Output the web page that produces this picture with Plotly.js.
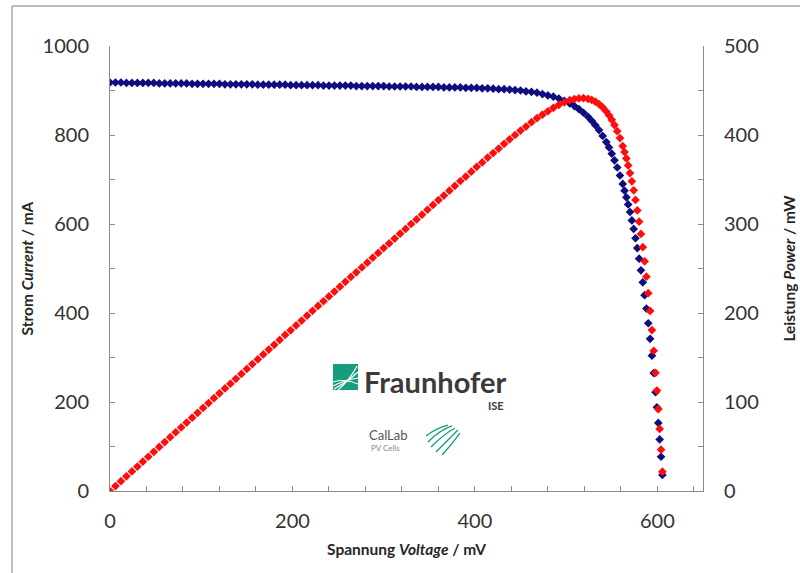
<!DOCTYPE html>
<html><head><meta charset="utf-8">
<script src="https://cdn.plot.ly/plotly-3.0.1.min.js"></script>
<style>html,body{margin:0;padding:0;background:#fff}#chart{width:800px;height:573px}</style>
</head><body><div id="chart"></div>
<script>
// Voltage in mV
const voltage = [0,6,12,18,24,30,36,42,48,54,60,66,72,78,84,90,96,102,108,114,120,126,132,138,144,150,156,162,168,174,180,186,192,198,204,210,216,222,228,234,240,246,252,258,264,270,276,282,288,294,300,306,312,318,324,330,336,342,348,354,360,366,372,378,384,390,396,402,408,414,420,426,432,438,444,450,456,462,468,474,480,486,492,498,
504,509,514,519,524,528,532,536,540,544,547,550,553,556,559,562,564,566,568,570,572,574,576,578,580,582,584,586,588,590,592,594,596,598,599.5,601,602.5,604,605.5];
// Current in mA
const current = [918,918,918,917,917,917,917,917,917,916,916,916,916,916,916,915,915,915,915,915,915,914,914,914,914,914,914,913,913,913,913,913,913,912,912,912,912,912,912,911,911,911,911,911,911,910,910,910,910,910,910,909,909,909,909,909,908,908,908,908,908,907,907,907,907,906,906,906,905,905,904,903,903,902,901,900,898,897,895,892,889,886,882,877,
871,865,858,850,841,832,822,811,798,784,772,758,743,727,709,690,675,660,644,627,608,589,568,546,522,496,469,440,410,377,342,304,265,222,188,153,116,77,36];
// Power in mW
const power = [0,5.5,11.0,16.5,22.0,27.5,33.0,38.5,44.0,49.5,55.0,60.5,66.0,71.4,76.9,82.4,87.8,93.3,98.8,104.3,109.8,115.2,120.6,126.1,131.6,137.1,142.6,147.9,153.4,158.9,164.3,169.8,175.3,180.6,186.0,191.5,197.0,202.5,207.9,213.2,218.6,224.1,229.6,235.0,240.5,245.7,251.2,256.6,262.1,267.5,273.0,278.2,283.6,289.1,294.5,300.0,305.1,310.5,316.0,321.4,326.9,332.0,337.4,342.8,348.3,353.3,358.8,364.2,369.2,374.7,379.7,384.7,390.1,395.1,400.0,405.0,409.5,414.4,418.9,422.8,426.7,430.6,433.9,436.7,
439.1,440.4,441.2,441.4,440.6,439.4,437.5,434.7,431.1,426.4,422.1,417.0,411.1,404.3,396.5,387.6,380.9,373.7,365.8,357.2,348.0,337.9,327.1,315.3,302.6,288.9,274.0,258.1,240.8,222.3,202.3,180.8,157.6,132.8,112.9,92.0,69.8,46.4,21.7];

const xTitle = 'Spannung <i>Voltage</i> / mV';
const yTitle = 'Strom <i>Current</i> / mA';
const y2Title = 'Leistung <i>Power</i> / mW';

// pixel -> paper helpers (plot area 110..703 x 46..491)
const L = 110, R = 703, T = 46, B = 491;
const px = x => (x - L) / (R - L);
const py = y => (B - y) / (B - T);
const P = (x, y) => px(x).toFixed(4) + ',' + py(y).toFixed(4);

const axisGray = '#8c8c8c';
const tickFont = {family: 'Lato, "Open Sans", sans-serif', size: 20, color: '#333333'};
const titleFont = {family: 'Lato, "Open Sans", sans-serif', size: 15.5, color: '#262626', weight: 'bold'};
const green = '#179c7d';

const traces = [
  {x: voltage, y: current, type: 'scatter', mode: 'markers', yaxis: 'y',
   marker: {symbol: 'diamond', size: 6.7, color: '#0d0d80', line: {width: 0}}, name: 'Current'},
  {x: voltage, y: power, type: 'scatter', mode: 'markers', yaxis: 'y2',
   marker: {symbol: 'diamond', size: 6.7, color: '#ff0d0d', line: {width: 0}}, name: 'Power'}
];

const shapes = [
  // outer frame
  {type: 'line', xref: 'paper', yref: 'paper', x0: px(12), y0: py(6), x1: px(12), y1: py(580), line: {color: '#a8a8a8', width: 1.5}},
  {type: 'line', xref: 'paper', yref: 'paper', x0: px(12), y0: py(6), x1: px(810), y1: py(6), line: {color: '#a8a8a8', width: 1.5}},
  // Fraunhofer green square
  {type: 'rect', xref: 'paper', yref: 'paper', x0: px(333), x1: px(358), y0: py(390), y1: py(364), fillcolor: green, line: {width: 0}},
  {type: 'path', xref: 'paper', yref: 'paper', path: 'M' + P(333, 386) + ' Q' + P(345, 380) + ' ' + P(358, 378), line: {color: '#ffffff', width: 1.2}},
  {type: 'path', xref: 'paper', yref: 'paper', path: 'M' + P(334, 389) + ' Q' + P(347, 382) + ' ' + P(358, 372), line: {color: '#ffffff', width: 1.2}},
  {type: 'path', xref: 'paper', yref: 'paper', path: 'M' + P(338, 390) + ' Q' + P(350, 380) + ' ' + P(357, 366), line: {color: '#ffffff', width: 1.2}},
  {type: 'path', xref: 'paper', yref: 'paper', path: 'M' + P(333, 382) + ' Q' + P(344, 378) + ' ' + P(358, 384), line: {color: '#ffffff', width: 1.0}},
  // CalLab fan
  {type: 'path', xref: 'paper', yref: 'paper', path: 'M' + P(426, 436) + ' Q' + P(436, 428) + ' ' + P(448, 425), line: {color: green, width: 1.3}},
  {type: 'path', xref: 'paper', yref: 'paper', path: 'M' + P(428, 442) + ' Q' + P(440, 430) + ' ' + P(452, 426), line: {color: green, width: 1.3}},
  {type: 'path', xref: 'paper', yref: 'paper', path: 'M' + P(431, 447) + ' Q' + P(444, 434) + ' ' + P(455, 428), line: {color: green, width: 1.3}},
  {type: 'path', xref: 'paper', yref: 'paper', path: 'M' + P(436, 452) + ' Q' + P(448, 440) + ' ' + P(458, 430), line: {color: green, width: 1.3}},
  {type: 'path', xref: 'paper', yref: 'paper', path: 'M' + P(442, 455) + ' Q' + P(452, 444) + ' ' + P(460, 433), line: {color: green, width: 1.3}}
];

const annotations = [
  {xref: 'paper', yref: 'paper', x: px(362), y: py(381), xanchor: 'left', yanchor: 'middle', showarrow: false,
   text: 'Fraunhofer', font: {family: 'Lato, sans-serif', size: 29, color: '#3a3a3a', weight: 'bold'}},
  {xref: 'paper', yref: 'paper', x: px(506), y: py(405), xanchor: 'right', yanchor: 'middle', showarrow: false,
   text: '<b>ISE</b>', font: {family: 'Lato, sans-serif', size: 11, color: '#3a3a3a'}},
  {xref: 'paper', yref: 'paper', x: px(367), y: py(435), xanchor: 'left', yanchor: 'middle', showarrow: false,
   text: 'CalLab', font: {family: 'Lato, sans-serif', size: 13, color: '#555555'}},
  {xref: 'paper', yref: 'paper', x: px(369), y: py(448), xanchor: 'left', yanchor: 'middle', showarrow: false,
   text: 'PV Cells', font: {family: 'Lato, sans-serif', size: 8, color: '#8a8a8a'}}
];

const layout = {
  width: 800, height: 573,
  margin: {l: L, r: 800 - R, t: T, b: 573 - B, pad: 0},
  paper_bgcolor: '#ffffff', plot_bgcolor: '#ffffff',
  showlegend: false,
  xaxis: {
    range: [0, 650], tick0: 0, dtick: 200, ticks: 'inside', ticklen: 5, tickcolor: axisGray,
    showline: true, linecolor: axisGray, linewidth: 1, showgrid: false, zeroline: false,
    minor: {dtick: 40, ticks: 'inside', ticklen: 5, tickcolor: axisGray, showgrid: false},
    tickfont: tickFont, ticklabelstandoff: 12,
    title: {text: xTitle, font: titleFont, standoff: 13}
  },
  yaxis: {
    range: [0, 1000], tick0: 0, dtick: 200, ticks: 'inside', ticklen: 5, tickcolor: axisGray,
    showline: true, linecolor: axisGray, linewidth: 1, showgrid: false, zeroline: false,
    minor: {dtick: 100, ticks: 'inside', ticklen: 5, tickcolor: axisGray, showgrid: false},
    tickfont: tickFont, ticklabelstandoff: 16,
    title: {text: yTitle, font: titleFont, standoff: 5}
  },
  yaxis2: {
    overlaying: 'y', side: 'right',
    range: [0, 500], tick0: 0, dtick: 100, ticks: 'inside', ticklen: 5, tickcolor: axisGray,
    showline: true, linecolor: axisGray, linewidth: 1, showgrid: false, zeroline: false,
    minor: {dtick: 50, ticks: 'inside', ticklen: 5, tickcolor: axisGray, showgrid: false},
    tickfont: tickFont, ticklabelstandoff: 16,
    title: {text: y2Title, font: titleFont, standoff: 26}
  },
  shapes: shapes,
  annotations: annotations
};

Plotly.newPlot('chart', traces, layout, {staticPlot: true, displayModeBar: false});
</script>
</body></html>
